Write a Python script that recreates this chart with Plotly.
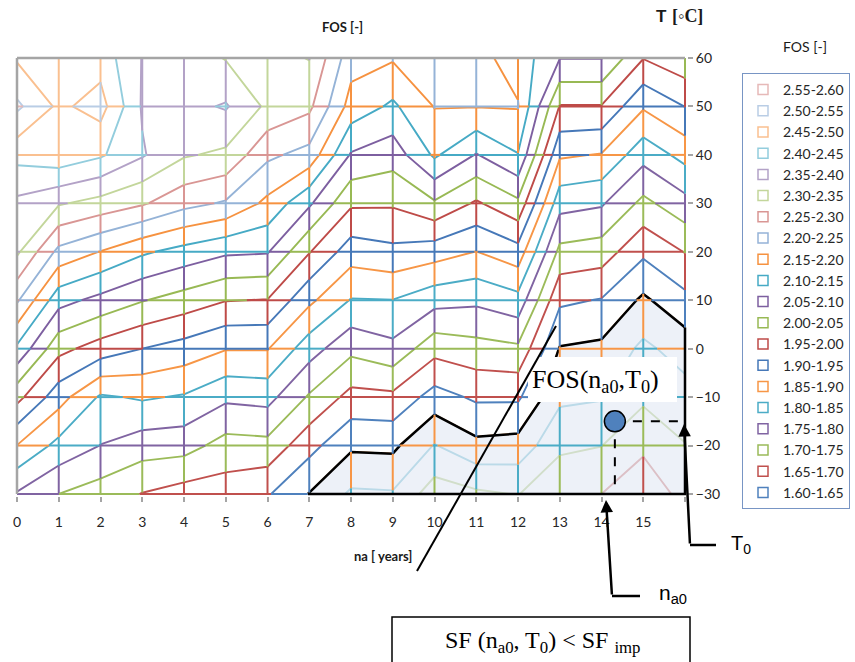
import numpy as np
import plotly.graph_objects as go

# ---------------- data ----------------
na_years = list(range(17))                       # n_a [years], 0..16
temps = [-30, -20, -10, 0, 10, 20, 30, 40, 50, 60]  # T [°C]
x_tick_labels = [str(i) for i in range(16)] + [""]

# FOS values, one row per temperature (columns = na 0..16)
fos_T_m30 = [1.795, 1.750, 1.727, 1.698, 1.678, 1.675, 1.655, 1.598, 1.542, 1.545, 1.474, 1.491, 1.502, 1.457, 1.450, 1.409, 1.470]
fos_T_m20 = [1.899, 1.835, 1.799, 1.774, 1.770, 1.731, 1.735, 1.667, 1.609, 1.611, 1.547, 1.587, 1.581, 1.511, 1.501, 1.462, 1.498]
fos_T_m10 = [2.016, 1.921, 1.843, 1.856, 1.845, 1.810, 1.817, 1.744, 1.684, 1.688, 1.630, 1.658, 1.658, 1.560, 1.554, 1.509, 1.530]
fos_T_0   = [2.140, 2.015, 1.978, 1.950, 1.930, 1.903, 1.903, 1.822, 1.763, 1.787, 1.717, 1.732, 1.741, 1.597, 1.589, 1.539, 1.572]
fos_T_10  = [2.257, 2.118, 2.085, 2.053, 2.028, 2.002, 1.998, 1.911, 1.847, 1.849, 1.818, 1.810, 1.833, 1.659, 1.647, 1.591, 1.636]
fos_T_20  = [2.359, 2.236, 2.198, 2.158, 2.132, 2.108, 2.104, 2.003, 1.924, 1.938, 1.923, 1.899, 1.931, 1.736, 1.726, 1.660, 1.702]
fos_T_30  = [2.388, 2.355, 2.332, 2.306, 2.266, 2.244, 2.188, 2.108, 2.008, 2.006, 2.043, 1.993, 2.039, 1.818, 1.806, 1.737, 1.783]
fos_T_40  = [2.467, 2.485, 2.457, 2.405, 2.355, 2.340, 2.260, 2.233, 2.095, 2.072, 2.158, 2.097, 2.148, 1.907, 1.897, 1.818, 1.867]
fos_T_50  = [2.560, 2.490, 2.520, 2.395, 2.385, 2.405, 2.340, 2.311, 2.180, 2.141, 2.202, 2.202, 2.203, 1.997, 1.997, 1.906, 1.951]
fos_T_60  = [2.494, 2.492, 2.480, 2.398, 2.380, 2.347, 2.335, 2.352, 2.220, 2.205, 2.230, 2.215, 2.180, 2.102, 2.102, 2.002, 2.035]

band_labels = ["1.60-1.65", "1.65-1.70", "1.70-1.75", "1.75-1.80", "1.80-1.85",
               "1.85-1.90", "1.90-1.95", "1.95-2.00", "2.00-2.05", "2.05-2.10",
               "2.10-2.15", "2.15-2.20", "2.20-2.25", "2.25-2.30", "2.30-2.35",
               "2.35-2.40", "2.40-2.45", "2.45-2.50", "2.50-2.55", "2.55-2.60"]
band_start = 1.60
band_step = 0.05
sf_imp = 1.60

# point (n_a0, T0)
na0 = 14.32
T0 = -15.0

# ---------------- styles ----------------
band_colors = ["#4F81BD", "#C0504D", "#9BBB59", "#8064A2", "#4BACC6", "#F79646",
               "#4678B8", "#BE4B48", "#98B954", "#7D5FA0", "#46AAC5", "#F69240",
               "#95B3D7", "#D99694", "#C3D69B", "#B3A2C7", "#93CDDD", "#FAC090",
               "#B9CDE5", "#E6B9B8"]
below_colors = ["#F79646", "#4BACC6", "#9BBB59", "#C0504D", "#4F81BD"]


def col(k):
    if k >= 0:
        return band_colors[min(k, len(band_colors) - 1)]
    return below_colors[min(-k - 1, len(below_colors) - 1)]


Z = np.array([fos_T_m30, fos_T_m20, fos_T_m10, fos_T_0, fos_T_10,
              fos_T_20, fos_T_30, fos_T_40, fos_T_50, fos_T_60])


def band_of(v):
    return np.floor((v - band_start) / band_step + 1e-9).astype(int)


# ---- coloured wire-frame grid (each piece coloured by its FOS band) ----
grid = {}


def add_runs(xs, ys, vals):
    b = band_of(vals)
    px = [xs[0]]
    py = [ys[0]]
    for j in range(1, len(xs)):
        if b[j] != b[j - 1]:
            mx = (xs[j - 1] + xs[j]) / 2
            my = (ys[j - 1] + ys[j]) / 2
            px.append(mx)
            py.append(my)
            c = col(int(b[j - 1]))
            g = grid.setdefault(c, ([], []))
            g[0].extend(px + [None])
            g[1].extend(py + [None])
            px = [mx]
            py = [my]
        px.append(xs[j])
        py.append(ys[j])
    c = col(int(b[-1]))
    g = grid.setdefault(c, ([], []))
    g[0].extend(px + [None])
    g[1].extend(py + [None])


tt = np.linspace(temps[0], temps[-1], 1801)
for i, xv in enumerate(na_years):
    vals = np.interp(tt, temps, Z[:, i])
    add_runs([float(xv)] * len(tt), list(tt), vals)
xx = np.linspace(na_years[0], na_years[-1], 1601)
for j, tv in enumerate(temps):
    vals = np.interp(xx, na_years, Z[j, :])
    add_runs(list(xx), [float(tv)] * len(xx), vals)

fig = go.Figure()
for c, (gx, gy) in grid.items():
    fig.add_trace(go.Scatter(x=gx, y=gy, mode="lines", line=dict(color=c, width=2),
                             hoverinfo="skip", showlegend=False))

# ---- contour lines ----
levels = [round(1.45 + band_step * i, 2) for i in range(23)]
for L in levels:
    k = int(round((L - (band_start + band_step)) / band_step))
    fig.add_trace(go.Contour(z=Z, x=na_years, y=temps, autocontour=False,
                             contours=dict(start=L, end=L, size=band_step, coloring="none"),
                             line=dict(color=col(k), width=1.9, smoothing=0),
                             showscale=False, hoverinfo="skip", showlegend=False))

# ---- shaded region FOS < SF_imp (constraint shades the excluded side) ----
fig.add_trace(go.Contour(z=Z, x=na_years, y=temps,
                         contours=dict(type="constraint", operation=">=", value=sf_imp),
                         fillcolor="rgba(230,236,245,0.72)",
                         line=dict(color="black", width=2.5, smoothing=0),
                         showscale=False, hoverinfo="skip", showlegend=False))

# black border along the chart edges of that region
vb = np.interp(xx, na_years, Z[0, :])
xb = xx[vb < sf_imp]
vr = np.interp(tt, temps, Z[:, -1])
tr = tt[vr < sf_imp]
fig.add_trace(go.Scatter(x=[xb.min(), na_years[-1], na_years[-1]],
                         y=[temps[0], temps[0], tr.max()],
                         mode="lines", line=dict(color="black", width=2.5),
                         hoverinfo="skip", showlegend=False))

# ---- the point and its dashed projections ----
fig.add_trace(go.Scatter(x=[na0, na0], y=[T0, temps[0]], mode="lines",
                         line=dict(color="black", width=2, dash="dash"),
                         hoverinfo="skip", showlegend=False))
fig.add_trace(go.Scatter(x=[na0, na_years[-1]], y=[T0, T0], mode="lines",
                         line=dict(color="black", width=2, dash="dash"),
                         hoverinfo="skip", showlegend=False))
fig.add_trace(go.Scatter(x=[na0], y=[T0], mode="markers",
                         marker=dict(size=21, color="#4F81BD", line=dict(color="black", width=1.5)),
                         hoverinfo="skip", showlegend=False))

# ---- legend entries ----
for k in range(len(band_labels) - 1, -1, -1):
    fig.add_trace(go.Scatter(x=[None], y=[None], mode="markers", name=band_labels[k],
                             marker=dict(symbol="square-open", size=10, color=band_colors[k],
                                         line=dict(width=1.5, color=band_colors[k]))))

# ---------------- layout ----------------
PL, PR, PT, PB = 15, 687, 56, 496


def qx(px):
    return (px - PL) / (PR - PL)


def qy(py):
    return (PB - py) / (PB - PT)


tick_font = dict(family="Lato, 'Open Sans', sans-serif", size=14, color="#262626")
fig.update_layout(
    width=855, height=662,
    margin=dict(l=PL, r=855 - PR, t=PT, b=662 - PB, autoexpand=False),
    paper_bgcolor="white", plot_bgcolor="white",
    xaxis=dict(range=[-0.0479, 16.0479], tickvals=na_years, ticktext=x_tick_labels,
               showgrid=False, zeroline=False, showline=False, ticks="outside",
               ticklen=5, tickcolor="#A5A5A5", tickwidth=1.5, tickfont=tick_font,
               ticklabelstandoff=8, automargin=False),
    yaxis=dict(range=[-30.413, 60.413], side="right", tickvals=temps,
               showgrid=False, zeroline=False, showline=False, ticks="outside",
               ticklen=5, tickcolor="#A5A5A5", tickwidth=1.5, tickfont=tick_font,
               automargin=False),
    legend=dict(x=qx(742), y=qy(73), xanchor="left", yanchor="top",
                bordercolor="#7895C4", borderwidth=1, bgcolor="white",
                font=dict(family="Lato, 'Open Sans', sans-serif", size=14, color="#262626"),
                tracegroupgap=0),
    showlegend=True,
)

shapes = [
    dict(type="line", xref="x", yref="y", x0=0, x1=0, y0=temps[0], y1=temps[-1],
         line=dict(color="#A5A5A5", width=2.5), layer="above"),
    dict(type="line", xref="x", yref="y", x0=0, x1=na_years[-1], y0=temps[-1], y1=temps[-1],
         line=dict(color="#A5A5A5", width=2.5), layer="above"),
    # white label box for FOS(na0,T0)
    dict(type="rect", xref="paper", yref="paper", x0=qx(528), x1=qx(677), y0=qy(402), y1=qy(357),
         line=dict(width=0), fillcolor="white", layer="above"),
    # pointer elbows
    dict(type="line", xref="paper", yref="paper", x0=qx(690), x1=qx(716), y0=qy(545), y1=qy(545),
         line=dict(color="black", width=2.5)),
    dict(type="line", xref="paper", yref="paper", x0=qx(612), x1=qx(640), y0=qy(596), y1=qy(596),
         line=dict(color="black", width=2.5)),
    # long diagonal pointer
    dict(type="line", xref="paper", yref="paper", x0=qx(556), x1=qx(417), y0=qy(326), y1=qy(571),
         line=dict(color="black", width=2)),
    # bottom box
    dict(type="rect", xref="paper", yref="paper", x0=qx(392), x1=qx(690), y0=qy(672), y1=qy(617),
         line=dict(color="black", width=1.5), fillcolor="white", layer="below"),
]
fig.update_layout(shapes=shapes)

serif = "'Liberation Serif', 'Times New Roman', serif"
sans = "'Liberation Sans', Arial, sans-serif"


def note(text, px, py, font, **kw):
    d = dict(text=text, x=qx(px), y=qy(py), xref="paper", yref="paper",
             xanchor="center", yanchor="middle", showarrow=False, font=font)
    d.update(kw)
    return d


annotations = [
    note("<b>FOS [-]</b>", 342, 27, dict(family="Lato, sans-serif", size=13, color="#1a1a1a")),
    note("<b>T</b>", 661, 16, dict(family=sans, size=17, color="#1a1a1a")),
    note("<b>[◦C]</b>", 687, 16, dict(family=serif, size=18, color="#1a1a1a")),
    note("FOS [-]", 805, 46, dict(family="Lato, sans-serif", size=14, color="#1a1a1a")),
    note("<b>na [ years]</b>", 383, 556, dict(family="Lato, sans-serif", size=13, color="#1a1a1a")),
    note("FOS(n<sub>a0</sub>,T<sub>0</sub>)", 595, 381, dict(family=serif, size=26, color="black")),
    note("T<sub>0</sub>", 741, 544, dict(family=sans, size=20, color="black")),
    note("n<sub>a0</sub>", 673, 594, dict(family=sans, size=21, color="black")),
    note("SF (n<sub>a0</sub>, T<sub>0</sub>) &lt; SF <sub>imp</sub>",
         543, 642, dict(family=serif, size=24, color="black")),
    # arrows
    dict(text="", x=qx(684), y=qy(424), xref="paper", yref="paper", showarrow=True,
         ax=6, ay=121, arrowhead=2, arrowsize=1, arrowwidth=2.5, arrowcolor="black",
         standoff=0, startstandoff=0),
    dict(text="", x=qx(606), y=qy(500), xref="paper", yref="paper", showarrow=True,
         ax=6, ay=96, arrowhead=2, arrowsize=1, arrowwidth=2.5, arrowcolor="black",
         standoff=0, startstandoff=0),
]
fig.update_layout(annotations=annotations)

fig.write_html("out.html")
